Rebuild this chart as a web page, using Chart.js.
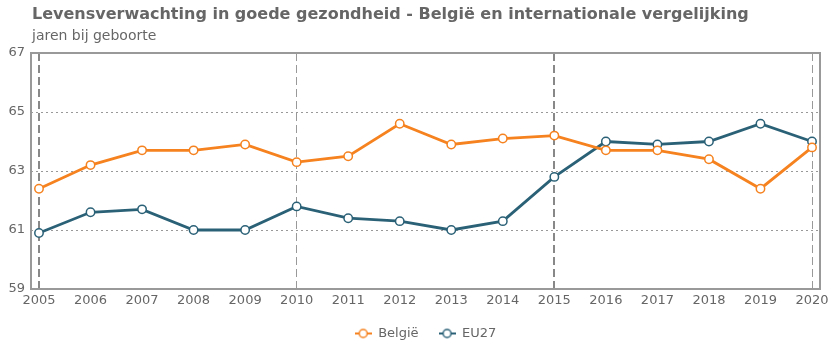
<!DOCTYPE html>
<html>
<head>
<meta charset="utf-8">
<title>Levensverwachting in goede gezondheid</title>
<script src="https://cdn.jsdelivr.net/npm/chart.js@4.4.1/dist/chart.umd.min.js"></script>
<style>
  body { margin: 0; background: #fff; font-family: "DejaVu Sans", Verdana, sans-serif; }
  #wrap { position: relative; width: 840px; height: 352px; }
  #title { position: absolute; left: 32px; top: 4px; font-size: 16px; font-weight: bold; color: #666; white-space: nowrap; }
  #sub { position: absolute; left: 32px; top: 27px; font-size: 14px; color: #666; white-space: nowrap; }
  canvas { position: absolute; left: 0; top: 0; }
</style>
</head>
<body>
<div id="wrap">
  <canvas id="myChart" width="840" height="352"></canvas>
  <div id="title">Levensverwachting in goede gezondheid - België en internationale vergelijking</div>
  <div id="sub">jaren bij geboorte</div>
</div>
<script>
const years = [2005, 2006, 2007, 2008, 2009, 2010, 2011, 2012, 2013, 2014, 2015, 2016, 2017, 2018, 2019, 2020];
const belgie = [62.4, 63.2, 63.7, 63.7, 63.9, 63.3, 63.5, 64.6, 63.9, 64.1, 64.2, 63.7, 63.7, 63.4, 62.4, 63.8];
const eu27 = [60.9, 61.6, 61.7, 61.0, 61.0, 61.8, 61.4, 61.3, 61.0, 61.3, 62.8, 64.0, 63.9, 64.0, 64.6, 64.0];
const yTicks = [59, 61, 63, 65, 67];
const seriesNames = ['België', 'EU27'];

const orange = '#f5821f';
const teal = '#2b6177';
const txt = '#666';

// small line+circle marker for the legend
function marker(color) {
    const c = document.createElement('canvas');
    c.width = 17; c.height = 12;
    const g = c.getContext('2d');
    g.strokeStyle = color;
    g.lineWidth = 2;
    g.beginPath(); g.moveTo(0, 6); g.lineTo(17, 6); g.stroke();
    g.fillStyle = '#fff';
    g.lineWidth = 1.5;
    g.beginPath(); g.arc(8.5, 6, 4, 0, Math.PI * 2); g.fill(); g.stroke();
    return c;
}

// grey box around the plot area, legend centred under it
const frame = {
    id: 'frame',
    afterLayout(chart) {
        const a = chart.chartArea, lg = chart.legend;
        const shift = (a.left + a.right) / 2 - (lg.left + lg.right) / 2;
        lg.left += shift;
        lg.right += shift;
    },
    beforeDatasetsDraw(chart) {
        const a = chart.chartArea;
        const ctx = chart.ctx;
        ctx.save();
        ctx.strokeStyle = '#999';
        ctx.lineWidth = 2;
        ctx.strokeRect(a.left, a.top, a.right - a.left, a.bottom - a.top);
        ctx.restore();
    }
};

const colors = [orange, teal];
const ctx = document.getElementById('myChart').getContext('2d');
const myChart = new Chart(ctx, {
    type: 'line',
    data: {
        datasets: [belgie, eu27].map((vals, i) => ({
            label: seriesNames[i],
            data: years.map((y, j) => ({ x: y, y: vals[j] })),
            borderColor: colors[i],
            borderWidth: 2.8,
            pointRadius: 4.2,
            pointHoverRadius: 4.2,
            pointBackgroundColor: '#fff',
            pointBorderColor: colors[i],
            pointBorderWidth: 1.5,
            tension: 0,
            clip: false
        }))
    },
    options: {
        responsive: false,
        animation: false,
        layout: { padding: { top: 53, right: 20, bottom: 2, left: 0 } },
        plugins: {
            title: { display: false },
            tooltip: { enabled: false },
            legend: {
                position: 'bottom',
                labels: {
                    usePointStyle: true,
                    pointStyleWidth: 17,
                    padding: 20,
                    color: txt,
                    font: { family: 'DejaVu Sans', size: 13 },
                    generateLabels: (chart) => seriesNames.map((n, i) => ({
                        text: n,
                        datasetIndex: i,
                        pointStyle: marker(colors[i]),
                        fontColor: txt,
                        lineWidth: 0,
                        strokeStyle: 'transparent',
                        fillStyle: 'transparent'
                    }))
                }
            }
        },
        scales: {
            x: {
                type: 'linear',
                min: years[0] - 0.155,
                max: years[years.length - 1] + 0.155,
                afterBuildTicks: (s) => { s.ticks = years.map(v => ({ value: v })); },
                afterFit: (s) => { s.height = 18; },
                ticks: {
                    color: txt,
                    padding: 4,
                    maxRotation: 0,
                    autoSkip: false,
                    font: { family: 'DejaVu Sans', size: 13 },
                    callback: (v) => String(v)
                },
                grid: {
                    drawTicks: false,
                    color: (c) => {
                        const v = c.tick && c.tick.value;
                        if (v === 2005 || v === 2015) return '#888';
                        if (v === 2010 || v === 2020) return '#999';
                        return 'transparent';
                    },
                    lineWidth: (c) => {
                        const v = c.tick && c.tick.value;
                        return (v === 2005 || v === 2015) ? 2 : 1;
                    }
                },
                border: { display: false, dash: [8, 4] }
            },
            y: {
                min: 59,
                max: 67,
                afterBuildTicks: (s) => { s.ticks = yTicks.map(v => ({ value: v })); },
                afterFit: (s) => { s.width = 31; },
                ticks: {
                    color: txt,
                    padding: 6,
                    font: { family: 'DejaVu Sans', size: 13 }
                },
                grid: {
                    drawTicks: false,
                    color: (c) => (c.tick && (c.tick.value === 59 || c.tick.value === 67)) ? 'transparent' : '#999',
                    lineWidth: 1
                },
                border: { display: false, dash: [2, 3] }
            }
        }
    },
    plugins: [frame]
});
</script>
</body>
</html>
